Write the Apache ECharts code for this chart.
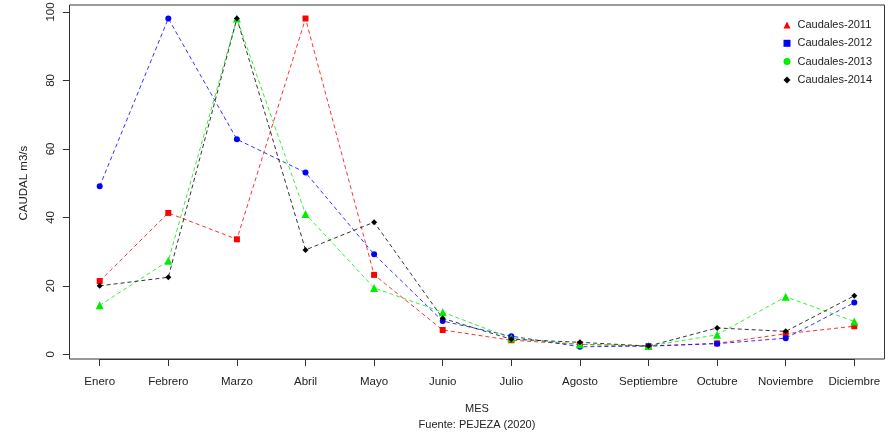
<!DOCTYPE html>
<html><head><meta charset="utf-8">
<script src="https://cdn.jsdelivr.net/npm/echarts@6/dist/echarts.min.js"></script>
<style>html,body{margin:0;padding:0;background:#fff}#c{width:893px;height:435px}</style>
</head><body><div id="c"></div>
<script>
const months = ['Enero','Febrero','Marzo','Abril','Mayo','Junio','Julio','Agosto','Septiembre','Octubre','Noviembre','Diciembre'];
const yTicks = [0, 20, 40, 60, 80, 100];
const c2011 = [21.4, 41.3, 33.6, 98.1, 23.2, 7.1, 4.1, 2.9, 2.4, 3.2, 6.0, 8.2];
const c2012 = [49.1, 98.1, 62.8, 53.1, 29.2, 9.7, 5.3, 2.2, 2.4, 3.1, 4.7, 15.1];
const c2013 = [14.3, 27.3, 98.1, 41.0, 19.4, 12.3, 4.7, 2.9, 2.4, 5.7, 16.8, 9.6];
const c2014 = [20.0, 22.5, 98.1, 30.5, 38.6, 10.5, 4.4, 3.5, 2.4, 7.7, 6.7, 17.1];
const seriesNames = ['Caudales-2011','Caudales-2012','Caudales-2013','Caudales-2014'];

const FONT = "'Liberation Sans', Arial, sans-serif";
const chart = echarts.init(document.getElementById('c'), null, {renderer:'canvas'});

function mk(name, data, color, symbol, size){
  return {
    name, type:'line', data, xAxisIndex:0, yAxisIndex:0,
    symbol, symbolSize:size, showSymbol:true, clip:false,
    itemStyle:{color},
    lineStyle:{color, width:1, type:[4,3], opacity:0.8},
    emphasis:{disabled:true}
  };
}

chart.setOption({
  animation:false,
  backgroundColor:'#fff',
  textStyle:{fontFamily:FONT},
  grid:[
    {left:99.7, right:38.7, top:12, bottom:80.7, show:false, containLabel:false, outerBoundsMode:'none'},
    {left:69.5, right:8.5, top:5, bottom:76, show:true, borderColor:'#333', borderWidth:1, backgroundColor:'transparent', containLabel:false, outerBoundsMode:'none'}
  ],
  xAxis:[
    {type:'category', gridIndex:0, data:months, boundaryGap:false, offset:4.7,
     axisLine:{show:true, onZero:false, lineStyle:{color:'#333', width:1}},
     axisTick:{show:true, length:7, alignWithLabel:true, lineStyle:{color:'#333'}},
     axisLabel:{show:true, margin:17, fontSize:11.5, color:'#222', fontFamily:FONT, interval:0},
     splitLine:{show:false},
     name:'MES\nFuente: PEJEZA (2020)', nameLocation:'middle', nameGap:42,
     nameTextStyle:{fontSize:11, color:'#222', lineHeight:16, fontFamily:FONT}
    },
    {type:'value', gridIndex:1, show:false, min:0, max:1}
  ],
  yAxis:[
    {type:'value', gridIndex:0, min:yTicks[0], max:yTicks[yTicks.length-1], interval:20, offset:30.2,
     axisLine:{show:false, onZero:false},
     axisTick:{show:true, length:6.6, lineStyle:{color:'#333'}},
     axisLabel:{show:true, rotate:90, margin:13, fontSize:11.5, color:'#222', fontFamily:FONT},
     splitLine:{show:false},
     name:'CAUDAL m3/s', nameLocation:'middle', nameGap:40,
     nameTextStyle:{fontSize:11.5, color:'#222', fontFamily:FONT}
    },
    {type:'value', gridIndex:1, show:false, min:0, max:1}
  ],
  legend:{
    orient:'vertical', left:778.5, top:14, itemWidth:7, itemHeight:7, itemGap:6.3,
    textStyle:{fontSize:11, color:'#222', lineHeight:12, fontFamily:FONT, padding:[0,0,0,2]},
    selectedMode:false,
    data:[
      {name:seriesNames[0], icon:'triangle'},
      {name:seriesNames[1], icon:'rect'},
      {name:seriesNames[2], icon:'circle'},
      {name:seriesNames[3], icon:'diamond'}
    ]
  },
  series:[
    mk(seriesNames[0], c2011, '#ff0000', 'rect', 6),
    mk(seriesNames[1], c2012, '#0000ff', 'circle', 6),
    mk(seriesNames[2], c2013, '#00ee00', 'triangle', 8),
    mk(seriesNames[3], c2014, '#000000', 'diamond', 6)
  ]
});
</script></body></html>
